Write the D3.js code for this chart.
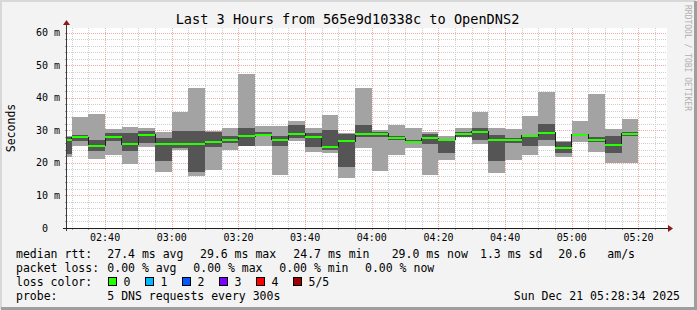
<!DOCTYPE html>
<html>
<head>
<meta charset="utf-8">
<script src="https://cdn.jsdelivr.net/npm/d3@7"></script>
<style>
  html, body { margin: 0; padding: 0; background: #f3f3f3; }
  svg text { font-family: "DejaVu Sans Mono", monospace; }
</style>
</head>
<body>
<svg id="chart" width="697" height="310"></svg>
<script>
// 5 minute bins (start time of each bin)
var binStarts = ['02:25', '02:30', '02:35', '02:40', '02:45', '02:50', '02:55',
  '03:00', '03:05', '03:10', '03:15', '03:20', '03:25', '03:30', '03:35',
  '03:40', '03:45', '03:50', '03:55', '04:00', '04:05', '04:10', '04:15',
  '04:20', '04:25', '04:30', '04:35', '04:40', '04:45', '04:50', '04:55',
  '05:00', '05:05', '05:10', '05:15'];

// sorted pings per bin, in ms
var ping1 = [21.7, 25.3, 21.3, 22.5, 19.8, 24.8, 17.1, 23.8, 16.0, 17.9, 24.0, 25.2,
  25.3, 16.4, 26.6, 23.2, 22.9, 15.5, 24.7, 17.6, 22.5, 24.7, 16.4, 21.0, 27.9,
  25.8, 16.8, 21.0, 22.5, 25.3, 21.9, 26.3, 23.3, 19.9, 19.9];
var ping2 = [22.6, 26.6, 23.5, 26.6, 23.5, 26.2, 20.7, 24.6, 17.1, 25.0, 26.0, 25.3,
  28.1, 25.2, 27.6, 24.8, 23.8, 18.6, 28.0, 27.8, 26.9, 26.0, 25.9, 22.9, 28.0,
  27.0, 20.7, 26.1, 25.3, 27.1, 22.9, 28.3, 26.3, 22.9, 28.1];
var median = [27.1, 27.8, 25.3, 27.8, 25.7, 28.7, 25.9, 25.9, 25.9, 26.4, 27.1, 28.1,
  28.6, 27.1, 29.0, 27.8, 25.0, 26.6, 29.0, 28.9, 27.6, 26.3, 27.6, 27.1, 28.9,
  29.6, 27.1, 27.1, 28.3, 29.3, 24.7, 28.7, 26.9, 25.6, 28.9];
var ping4 = [27.8, 28.6, 27.1, 29.2, 29.1, 29.7, 27.6, 29.9, 29.9, 29.6, 28.3, 30.8,
  29.4, 28.3, 31.7, 29.2, 30.2, 28.9, 31.7, 29.6, 28.3, 27.1, 28.9, 27.3, 29.4,
  30.7, 28.6, 27.6, 28.6, 32.0, 26.4, 29.0, 28.0, 28.3, 29.5];
var ping5 = [28.2, 34.2, 35.1, 30.4, 31.0, 30.7, 29.4, 35.5, 43.1, 29.8, 30.7, 47.3,
  31.2, 31.2, 32.7, 30.7, 34.8, 29.3, 43.1, 30.2, 31.7, 30.7, 29.6, 28.3, 30.7,
  35.5, 30.7, 30.4, 34.4, 41.6, 26.6, 32.7, 41.2, 30.5, 33.5];

var yTicks = [0, 10, 20, 30, 40, 50, 60];
var xTickLabels = ['02:40', '03:00', '03:20', '03:40', '04:00', '04:20', '04:40', '05:00', '05:20'];

var lossColors = [
  {label: '0', color: '#26ff00'},
  {label: '1', color: '#00b8ff'},
  {label: '2', color: '#0059ff'},
  {label: '3', color: '#7e00ff'},
  {label: '4', color: '#ff0000'},
  {label: '5/5', color: '#a00000'}
];

var svg = d3.select('#chart');
var W = 697, H = 310;
var plotLeft = 67, plotTop = 28, plotW = 600, plotH = 200;

var parseTime = d3.timeParse('%Y-%m-%d %H:%M:%S');
var day = '2025-12-21 ';
var tStart = parseTime(day + '02:28:34');
var tEnd = parseTime(day + '05:28:34');

var x = d3.scaleTime().domain([tStart, tEnd]).range([plotLeft, plotLeft + plotW]);
var y = d3.scaleLinear().domain([0, 61.4]).range([plotTop + plotH, plotTop]);

var bins = binStarts.map(function (s, i) {
  var t0 = parseTime(day + s + ':00');
  return {
    t0: t0,
    t1: d3.timeMinute.offset(t0, 5),
    p1: ping1[i], p2: ping2[i], med: median[i], p4: ping4[i], p5: ping5[i]
  };
});

// background and 3d frame
svg.append('rect').attr('width', W).attr('height', H).attr('fill', '#f3f3f3');
svg.append('path').attr('d', 'M1,' + (H - 1) + 'V1H' + (W - 1))
  .attr('fill', 'none').attr('stroke', '#d8d8d8').attr('stroke-width', 2);
svg.append('path').attr('d', 'M1,' + (H - 1.5) + 'H' + (W - 1.5) + 'V1')
  .attr('fill', 'none').attr('stroke', '#9e9e9e').attr('stroke-width', 3);

// canvas
svg.append('rect').attr('x', plotLeft).attr('y', plotTop)
  .attr('width', plotW).attr('height', plotH).attr('fill', '#ffffff');

var clip = svg.append('clipPath').attr('id', 'plotclip');
clip.append('rect').attr('x', plotLeft).attr('y', plotTop).attr('width', plotW).attr('height', plotH);

var grid = svg.append('g').attr('shape-rendering', 'crispEdges');

// minor grid
var minorY = d3.range(2, 61, 2).filter(function (v) { return v % 10 !== 0; });
grid.selectAll('.hminor').data(minorY).enter().append('line')
  .attr('x1', plotLeft).attr('x2', plotLeft + plotW)
  .attr('y1', function (d) { return Math.round(y(d)) + 0.5; })
  .attr('y2', function (d) { return Math.round(y(d)) + 0.5; })
  .attr('stroke', '#cfcfcf').attr('stroke-dasharray', '1,1');

var minorX = d3.timeMinute.every(5).range(tStart, tEnd)
  .filter(function (t) { return t.getMinutes() % 20 !== 0; });
grid.selectAll('.vminor').data(minorX).enter().append('line')
  .attr('y1', plotTop).attr('y2', plotTop + plotH)
  .attr('x1', function (d) { return Math.round(x(d)) + 0.5; })
  .attr('x2', function (d) { return Math.round(x(d)) + 0.5; })
  .attr('stroke', '#cfcfcf').attr('stroke-dasharray', '1,1');

// major grid
grid.selectAll('.hmajor').data(yTicks.slice(1)).enter().append('line')
  .attr('x1', plotLeft).attr('x2', plotLeft + plotW)
  .attr('y1', function (d) { return Math.round(y(d)) + 0.5; })
  .attr('y2', function (d) { return Math.round(y(d)) + 0.5; })
  .attr('stroke', '#f0a8a8').attr('stroke-dasharray', '1,1');

var majorX = xTickLabels.map(function (s) { return parseTime(day + s + ':00'); });
grid.selectAll('.vmajor').data(majorX).enter().append('line')
  .attr('y1', plotTop).attr('y2', plotTop + plotH)
  .attr('x1', function (d) { return Math.round(x(d)) + 0.5; })
  .attr('x2', function (d) { return Math.round(x(d)) + 0.5; })
  .attr('stroke', '#f0a8a8').attr('stroke-dasharray', '1,1');

// smoke
var plot = svg.append('g').attr('clip-path', 'url(#plotclip)').attr('shape-rendering', 'crispEdges');

plot.selectAll('.outer').data(bins).enter().append('rect')
  .attr('x', function (d) { return x(d.t0); })
  .attr('width', function (d) { return x(d.t1) - x(d.t0); })
  .attr('y', function (d) { return y(d.p5); })
  .attr('height', function (d) { return y(d.p1) - y(d.p5); })
  .attr('fill', '#a3a3a3');

plot.selectAll('.inner').data(bins).enter().append('rect')
  .attr('x', function (d) { return x(d.t0); })
  .attr('width', function (d) { return x(d.t1) - x(d.t0); })
  .attr('y', function (d) { return y(d.p4); })
  .attr('height', function (d) { return y(d.p2) - y(d.p4); })
  .attr('fill', '#555555');

// median step line, then the green median bars
var stepPts = [];
bins.forEach(function (d) {
  stepPts.push([x(d.t0), y(d.med)]);
  stepPts.push([x(d.t1), y(d.med)]);
});
plot.append('path')
  .attr('d', d3.line()(stepPts))
  .attr('fill', 'none').attr('stroke', '#202020').attr('stroke-width', 1);

plot.selectAll('.med').data(bins).enter().append('rect')
  .attr('x', function (d) { return x(d.t0); })
  .attr('width', function (d) { return x(d.t1) - x(d.t0); })
  .attr('y', function (d) { return y(d.med) - 1; })
  .attr('height', 2)
  .attr('fill', lossColors[0].color);

// axes
var axisG = svg.append('g').attr('shape-rendering', 'crispEdges');
axisG.selectAll('.ytick').data(minorY.concat(yTicks)).enter().append('line')
  .attr('x1', plotLeft - 2).attr('x2', plotLeft)
  .attr('y1', function (d) { return Math.round(y(d)) + 0.5; })
  .attr('y2', function (d) { return Math.round(y(d)) + 0.5; })
  .attr('stroke', '#9a9a9a');
axisG.selectAll('.xtick').data(minorX.concat(majorX)).enter().append('line')
  .attr('y1', plotTop + plotH).attr('y2', plotTop + plotH + 2)
  .attr('x1', function (d) { return Math.round(x(d)) + 0.5; })
  .attr('x2', function (d) { return Math.round(x(d)) + 0.5; })
  .attr('stroke', '#9a9a9a');

axisG.append('line')
  .attr('x1', plotLeft - 0.5).attr('x2', plotLeft - 0.5)
  .attr('y1', plotTop + plotH + 3).attr('y2', plotTop - 4)
  .attr('stroke', '#3a3a3a');
axisG.append('line')
  .attr('x1', plotLeft - 4).attr('x2', plotLeft + plotW + 2)
  .attr('y1', plotTop + plotH + 0.5).attr('y2', plotTop + plotH + 0.5)
  .attr('stroke', '#1f1f1f');

svg.append('path')
  .attr('d', 'M' + (plotLeft - 4) + ',' + (plotTop - 3) + 'L' + (plotLeft - 0.5) + ',' + (plotTop - 8) + 'L' + (plotLeft + 3) + ',' + (plotTop - 3) + 'Z')
  .attr('fill', '#8b1a1a');
svg.append('path')
  .attr('d', 'M' + (plotLeft + plotW + 1) + ',' + (plotTop + plotH - 3) + 'L' + (plotLeft + plotW + 6) + ',' + (plotTop + plotH + 0.5) + 'L' + (plotLeft + plotW + 1) + ',' + (plotTop + plotH + 4) + 'Z')
  .attr('fill', '#8b1a1a');

// tick labels
svg.selectAll('.ylab').data(yTicks).enter().append('text')
  .attr('x', function (d) { return d === 0 ? 48 : 60; })
  .attr('y', function (d) { return y(d) + 3.5; })
  .attr('text-anchor', 'end')
  .attr('font-size', '10px')
  .attr('fill', '#000')
  .text(function (d) { return d === 0 ? '0' : d + ' m'; });

svg.selectAll('.xlab').data(majorX).enter().append('text')
  .attr('x', function (d) { return x(d); })
  .attr('y', 241)
  .attr('text-anchor', 'middle')
  .attr('font-size', '10px')
  .attr('fill', '#000')
  .text(function (d) { return d3.timeFormat('%H:%M')(d); });

// title, axis label, watermark
svg.append('text')
  .attr('x', 347.5).attr('y', 23.5)
  .attr('text-anchor', 'middle')
  .attr('font-size', '13.6px')
  .text('Last 3 Hours from 565e9d10338c to OpenDNS2');

svg.append('text')
  .attr('transform', 'translate(14.5,128) rotate(-90)')
  .attr('text-anchor', 'middle')
  .attr('font-size', '11.5px')
  .text('Seconds');

svg.append('text')
  .attr('transform', 'translate(685,5) rotate(90)')
  .attr('font-size', '8px')
  .attr('fill', '#b0b0b0')
  .text('RRDTOOL / TOBI OETIKER');

// legend
var legendRows = [
  {y: 257.5, items: [
    [16, 'median rtt:'], [107.3, '27.4 ms avg'], [200, '29.6 ms max'], [293.3, '24.7 ms min'],
    [391.7, '29.0 ms now'], [480, '1.3 ms sd'], [558.3, '20.6'], [607.3, 'am/s']]},
  {y: 271.5, items: [
    [16, 'packet loss:'], [107.3, '0.00 % avg'], [193.3, '0.00 % max'], [279.3, '0.00 % min'],
    [365, '0.00 % now']]},
  {y: 285.5, items: [[16, 'loss color:']]},
  {y: 299.5, items: [[16, 'probe:'], [107.3, '5 DNS requests every 300s']]}
];

legendRows.forEach(function (row) {
  svg.selectAll(null).data(row.items).enter().append('text')
    .attr('x', function (d) { return d[0]; })
    .attr('y', row.y)
    .attr('font-size', '11.5px')
    .attr('fill', '#000')
    .text(function (d) { return d[1]; });
});

var swatchX = [108.5, 145.5, 182.5, 219.5, 256.5, 293.5];
lossColors.forEach(function (c, i) {
  svg.append('rect')
    .attr('x', swatchX[i]).attr('y', 277.5)
    .attr('width', 8).attr('height', 8)
    .attr('fill', c.color).attr('stroke', '#000').attr('stroke-width', 1);
  svg.append('text')
    .attr('x', swatchX[i] + 15).attr('y', 285.5)
    .attr('font-size', '11.5px')
    .text(c.label);
});

svg.append('text')
  .attr('x', 680).attr('y', 299.5)
  .attr('text-anchor', 'end')
  .attr('font-size', '11.5px')
  .text('Sun Dec 21 05:28:34 2025');
</script>
</body>
</html>
